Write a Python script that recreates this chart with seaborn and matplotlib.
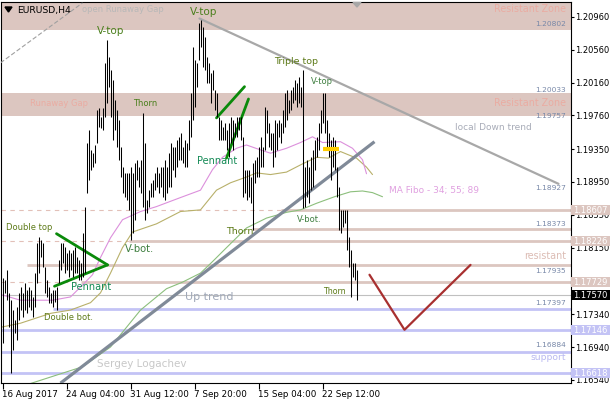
import matplotlib
matplotlib.use("Agg")
import matplotlib.pyplot as plt
import matplotlib.transforms as mtransforms
from matplotlib.patches import Rectangle, Polygon
import numpy as np
import pandas as pd
import seaborn as sns

# ---------------- data ----------------
bar_high = [1.1778, 1.1776, 1.1788, 1.1760, 1.1751, 1.1739, 1.1727, 1.1743, 1.1760, 1.1767,
            1.1760, 1.1772, 1.1763, 1.1767, 1.1763, 1.1755, 1.1784, 1.1821, 1.1828, 1.1824,
            1.1821, 1.1791, 1.1776, 1.1767, 1.1760, 1.1763, 1.1763, 1.1767, 1.1800, 1.1821,
            1.1821, 1.1816, 1.1809, 1.1812, 1.1809, 1.1812, 1.1816, 1.1804, 1.1800, 1.1796,
            1.1833, 1.1865, 1.1943, 1.1958, 1.1934, 1.1930, 1.1940, 1.1983, 1.1985, 1.1974,
            1.1985, 1.2040, 1.2068, 1.2047, 1.2031, 1.2019, 1.1995, 1.1983, 1.1971, 1.1938,
            1.1913, 1.1906, 1.1906, 1.1906, 1.1913, 1.1906, 1.1918, 1.1922, 1.1913, 1.1922,
            1.1979, 1.1943, 1.1873, 1.1885, 1.1894, 1.1897, 1.1906, 1.1913, 1.1906, 1.1913,
            1.1913, 1.1922, 1.1913, 1.1930, 1.1943, 1.1938, 1.1938, 1.1946, 1.1950, 1.1955,
            1.1938, 1.1946, 1.1943, 1.1971, 1.2003, 1.2059, 1.2044, 1.2040, 1.2089, 1.2092,
            1.2084, 1.2072, 1.2047, 1.2040, 1.2028, 1.2031, 1.2007, 1.2003, 1.1974, 1.1971,
            1.1962, 1.1967, 1.1958, 1.1967, 1.1974, 1.1971, 1.1967, 1.1974, 1.1974, 1.1974,
            1.1950, 1.1910, 1.1910, 1.1910, 1.1901, 1.1918, 1.1922, 1.1925, 1.1938, 1.1950,
            1.1938, 1.1986, 1.1983, 1.1967, 1.1955, 1.1955, 1.1971, 1.1967, 1.1971, 1.1967,
            1.1983, 1.2003, 1.2007, 1.1995, 1.2007, 1.2011, 1.2019, 1.2016, 1.2023, 1.2011,
            1.2031, 1.1913, 1.1922, 1.1913, 1.1925, 1.1934, 1.1946, 1.1950, 1.1967, 1.1983,
            1.2003, 1.2003, 1.1971, 1.1955, 1.1946, 1.1950, 1.1946, 1.1913, 1.1889, 1.1861,
            1.1861, 1.1861, 1.1861, 1.1828, 1.1812, 1.1796, 1.1796, 1.1788]
bar_low = [1.1699, 1.1760, 1.1751, 1.1718, 1.1662, 1.1690, 1.1711, 1.1703, 1.1727, 1.1739,
           1.1731, 1.1739, 1.1735, 1.1743, 1.1739, 1.1731, 1.1743, 1.1772, 1.1784, 1.1804,
           1.1791, 1.1760, 1.1755, 1.1748, 1.1748, 1.1743, 1.1749, 1.1739, 1.1772, 1.1788,
           1.1796, 1.1784, 1.1788, 1.1779, 1.1788, 1.1779, 1.1784, 1.1784, 1.1776, 1.1776,
           1.1779, 1.1784, 1.1882, 1.1897, 1.1910, 1.1913, 1.1918, 1.1943, 1.1962, 1.1961,
           1.1958, 1.1974, 1.1991, 1.2011, 1.1974, 1.1946, 1.1958, 1.1938, 1.1922, 1.1901,
           1.1882, 1.1877, 1.1873, 1.1861, 1.1824, 1.1833, 1.1849, 1.1897, 1.1889, 1.1882,
           1.1865, 1.1849, 1.1857, 1.1865, 1.1877, 1.1877, 1.1885, 1.1889, 1.1882, 1.1889,
           1.1877, 1.1873, 1.1882, 1.1889, 1.1889, 1.1910, 1.1901, 1.1913, 1.1922, 1.1922,
           1.1918, 1.1913, 1.1913, 1.1934, 1.1950, 1.1971, 1.1986, 1.2011, 1.2044, 1.2059,
           1.2035, 1.2031, 1.2016, 1.2016, 1.1991, 1.2007, 1.1983, 1.1974, 1.1946, 1.1946,
           1.1946, 1.1946, 1.1934, 1.1925, 1.1943, 1.1934, 1.1950, 1.1950, 1.1958, 1.1946,
           1.1877, 1.1882, 1.1873, 1.1877, 1.1869, 1.1837, 1.1894, 1.1901, 1.1901, 1.1913,
           1.1913, 1.1934, 1.1955, 1.1938, 1.1934, 1.1913, 1.1925, 1.1934, 1.1950, 1.1943,
           1.1955, 1.1962, 1.1971, 1.1979, 1.1983, 1.1991, 1.1995, 1.1986, 1.1991, 1.1986,
           1.1863, 1.1865, 1.1877, 1.1869, 1.1885, 1.1889, 1.1910, 1.1925, 1.1934, 1.1955,
           1.1967, 1.1955, 1.1938, 1.1925, 1.1897, 1.1913, 1.1910, 1.1877, 1.1837, 1.1833,
           1.1840, 1.1845, 1.1812, 1.1791, 1.1755, 1.1779, 1.1776, 1.1751]
last_price = 1.17570

x_tick_bars = [0, 32, 64, 96, 128, 160]
x_tick_labels = ["16 Aug 2017", "24 Aug 04:00", "31 Aug 12:00", "7 Sep 20:00", "15 Sep 04:00", "22 Sep 12:00"]
y_tick_values = [1.20960, 1.20560, 1.20160, 1.19760, 1.19350, 1.18950, 1.18550, 1.18150,
                 1.17340, 1.16940, 1.16540]

ma34_bar = [-1, 9, 25, 34, 39, 45, 49, 54, 60, 69, 77, 89, 99, 105, 110, 117, 122, 129, 134,
            142, 149, 155, 160, 169, 175, 180, 182]
ma34_val = [1.1758, 1.1751, 1.1751, 1.1755, 1.1767, 1.1782, 1.1803, 1.1827, 1.1849, 1.1859,
            1.1865, 1.1876, 1.1885, 1.1910, 1.1925, 1.1936, 1.1940, 1.1934, 1.1930, 1.1936,
            1.1943, 1.1950, 1.1943, 1.1944, 1.1936, 1.1922, 1.1905]
ma55_bar = [-1, 9, 24, 34, 44, 49, 54, 60, 65, 77, 89, 99, 107, 114, 122, 127, 134, 142, 150,
            157, 163, 169, 177, 182, 185]
ma55_val = [1.1718, 1.1723, 1.1735, 1.1739, 1.1748, 1.1760, 1.1784, 1.1815, 1.1834, 1.1844,
            1.1859, 1.1861, 1.1885, 1.1894, 1.1901, 1.1906, 1.1904, 1.1907, 1.1917, 1.1925,
            1.1924, 1.1932, 1.1924, 1.1913, 1.1904]
ma89_bar = [12, 40, 54, 62, 69, 82, 90, 99, 105, 112, 122, 132, 142, 149, 157, 166, 174, 180,
            185, 190]
ma89_val = [1.1648, 1.1670, 1.1694, 1.1718, 1.1739, 1.1765, 1.1773, 1.1784, 1.1798, 1.1815,
            1.1839, 1.1851, 1.1858, 1.1861, 1.1869, 1.1877, 1.1883, 1.1884, 1.1882, 1.1877]

zone_upper = (1.20802, 1.2120)
zone_lower = (1.19757, 1.20033)

# levels: (price, solid-from bar, dashed-left)
rose_levels = [(1.18607, 139, True), (1.18373, 124.5, False), (1.18226, 63, True),
               (1.17935, 12, False), (1.17729, 39, True)]
blue_levels = [(1.17397, 25), (1.17146, -1), (1.16884, -1), (1.16618, -1)]

up_trend = ([29, 186], [1.1650, 1.1944])
down_trend = ([98.5, 278], [1.2094, 1.18927])
old_dashed = ([-1, 40], [1.2040, 1.2113])
pennant1 = [([27, 52.5], [1.1832, 1.1794]), ([26, 52.5], [1.1768, 1.1794])]
pennant2 = [([107, 121], [1.1973, 1.2011]), ([112, 123], [1.1924, 1.1996])]
forecast = ([183.5, 201, 234], [1.1782, 1.1715, 1.1794])
yellow_mark = ([160, 168], [1.1935, 1.1935])

# ---------------- style ----------------
sns.set_theme(style="white")
plt.rcParams['font.family'] = ['DejaVu Sans']

W, H = 610, 400
fig = plt.figure(figsize=(W / 100, H / 100), dpi=100)
fig.patch.set_facecolor("white")
ax = fig.add_axes([0.5 / W, 17 / H, 570 / W, 381 / H])
ax.set_facecolor("white")
ax.set_xlim(-1.0, 284.0)
ax.set_ylim(1.16502, 1.21141)

ROSE = "#dcc6c0"
BLUE = "#c3c3f5"
GREEN_T = "#4a7f1c"
TEAL_T = "#138a55"
OLIVE_T = "#5d7a18"

# zones
ax.axhspan(*zone_upper, color=ROSE, lw=0, zorder=0)
ax.axhspan(*zone_lower, color=ROSE, lw=0, zorder=0)

# horizontal levels
for p, start, dashed in rose_levels:
    ax.hlines(p, start, 284.0, color=ROSE, lw=2.0, zorder=1)
    if dashed:
        ax.hlines(p, -1.0, start, color="#e2c0b8", lw=0.8, linestyles=(0, (4, 4)), zorder=1)
for p, start in blue_levels:
    ax.hlines(p, start, 284.0, color=BLUE, lw=2.0, zorder=1)
ax.axhline(last_price, color="#c0c0c0", lw=0.8, zorder=1)

# moving averages
sns.lineplot(x=ma89_bar, y=ma89_val, ax=ax, color="#8cbf7c", lw=0.8, zorder=2)
sns.lineplot(x=ma55_bar, y=ma55_val, ax=ax, color="#b8b06a", lw=0.8, zorder=2)
sns.lineplot(x=ma34_bar, y=ma34_val, ax=ax, color="#dc90dc", lw=0.8, zorder=2)

# trend lines
ax.plot(*up_trend, color="#808a98", lw=2.3, zorder=3, solid_capstyle="butt")
ax.plot(*down_trend, color="#a8a8a8", lw=1.6, zorder=3)
ax.plot(*old_dashed, color="#a0a0a0", lw=0.8, ls=(0, (4, 2)), zorder=3)
for xs, ys in pennant1 + pennant2:
    ax.plot(xs, ys, color="#0a8a0a", lw=2.0, zorder=4)
ax.plot(*forecast, color="#a83030", lw=1.6, zorder=4)
ax.plot(*yellow_mark, color="#ffcc00", lw=3.0, zorder=5, solid_capstyle="butt")

# price bars
idx = np.arange(len(bar_high))
ax.vlines(idx, bar_low, bar_high, color="black", lw=0.75, zorder=4)

# axes styling
for s in ax.spines.values():
    s.set_color("black")
    s.set_linewidth(0.8)
ax.yaxis.tick_right()
ax.set_yticks(y_tick_values)
ax.set_yticklabels([f"{v:.5f}" for v in y_tick_values])
ax.set_xticks(x_tick_bars)
ax.set_xticklabels(x_tick_labels, ha="left")
ax.tick_params(axis="y", which="both", right=True, left=False, length=2.5, width=0.8,
               pad=0.8, labelsize=6.0, colors="black", direction="out")
ax.tick_params(axis="x", which="both", bottom=True, length=4, width=0.8, pad=1,
               labelsize=6.3, colors="black", direction="out")
ax.grid(False)


def T(x, y, s, size, color, ha="left", **kw):
    fig.text(x / W, 1 - y / H, s, fontsize=size, color=color, ha=ha, va="center", **kw)


# header
fig.add_artist(Polygon([[5 / W, 1 - 7 / H], [12 / W, 1 - 7 / H], [8.5 / W, 1 - 12 / H]],
                       closed=True, transform=fig.transFigure, color="black"))
T(17, 10, "EURUSD,H4", 6.7, "black")
fig.add_artist(Polygon([[353 / W, 1 - 2.5 / H], [361 / W, 1 - 2.5 / H], [357 / W, 1 - 7 / H]],
                       closed=True, transform=fig.transFigure, color="#a8a8a8"))

T(82, 10, "open Runaway Gap", 6, "#b8b8b8")
T(566, 9, "Resistant Zone", 6.9, "#eaaca2", ha="right")
T(566, 24, "1.20802", 5.4, "#7888a8", ha="right")
T(97, 31, "V-top", 7.5, GREEN_T)
T(190, 12, "V-top", 7.5, GREEN_T)
T(30, 103, "Runaway Gap", 6, "#eaaca2")
T(133, 103, "Thorn", 6, GREEN_T)
T(274, 61, "Triple top", 6.8, OLIVE_T)
T(311, 82, "V-top", 6, "#3f7f40")
T(566, 90, "1.20033", 5.4, "#7888a8", ha="right")
T(566, 103, "Resistant Zone", 6.9, "#eaaca2", ha="right")
T(566, 116, "1.19757", 5.4, "#7888a8", ha="right")
T(455, 127, "local Down trend", 6.5, "#a8acb8")
T(197, 161, "Pennant", 7, TEAL_T)
T(389, 190, "MA Fibo - 34; 55; 89", 6.5, "#e0a0e0")
T(566, 188, "1.18927", 5.4, "#7888a8", ha="right")
T(566, 224, "1.18373", 5.4, "#7888a8", ha="right")
T(6, 227, "Double top", 6, OLIVE_T)
T(226, 232, "Thorn", 6.8, OLIVE_T)
T(125, 249, "V-bot.", 7.2, "#3f7f40")
T(297, 219, "V-bot.", 6, "#3f7f40")
T(566, 256, "resistant", 6.9, "#dcbcb4", ha="right")
T(566, 271, "1.17935", 5.4, "#7888a8", ha="right")
T(71, 287, "Pennant", 7, TEAL_T)
T(323, 291, "Thorn", 5.7, OLIVE_T)
T(185, 297, "Up trend", 8, "#a0a8b8")
T(566, 303, "1.17397", 5.4, "#7888a8", ha="right")
T(44, 317, "Double bot.", 6, OLIVE_T)
T(566, 345, "1.16884", 5.4, "#7888a8", ha="right")
T(566, 358, "support", 6.6, "#b8b8f0", ha="right")
T(97, 364, "Sergey Logachev", 7.5, "#c8c8c8")

# right-axis price boxes
btrans = mtransforms.blended_transform_factory(fig.transFigure, ax.transData)
box_h = 10 / 8213
for price, bg in [(1.18607, ROSE), (1.18226, ROSE), (1.17729, ROSE),
                  (last_price, "black"), (1.17146, BLUE), (1.16618, BLUE)]:
    fig.add_artist(Rectangle((571 / W, price - box_h / 2), 39 / W, box_h,
                             transform=btrans, color=bg, lw=0, zorder=5))
    fig.text(590.5 / W, price, f"{price:.5f}", transform=btrans, fontsize=6.0, color="white",
             ha="center", va="center", zorder=6)

fig.savefig("out.png", dpi=100, facecolor="white")
